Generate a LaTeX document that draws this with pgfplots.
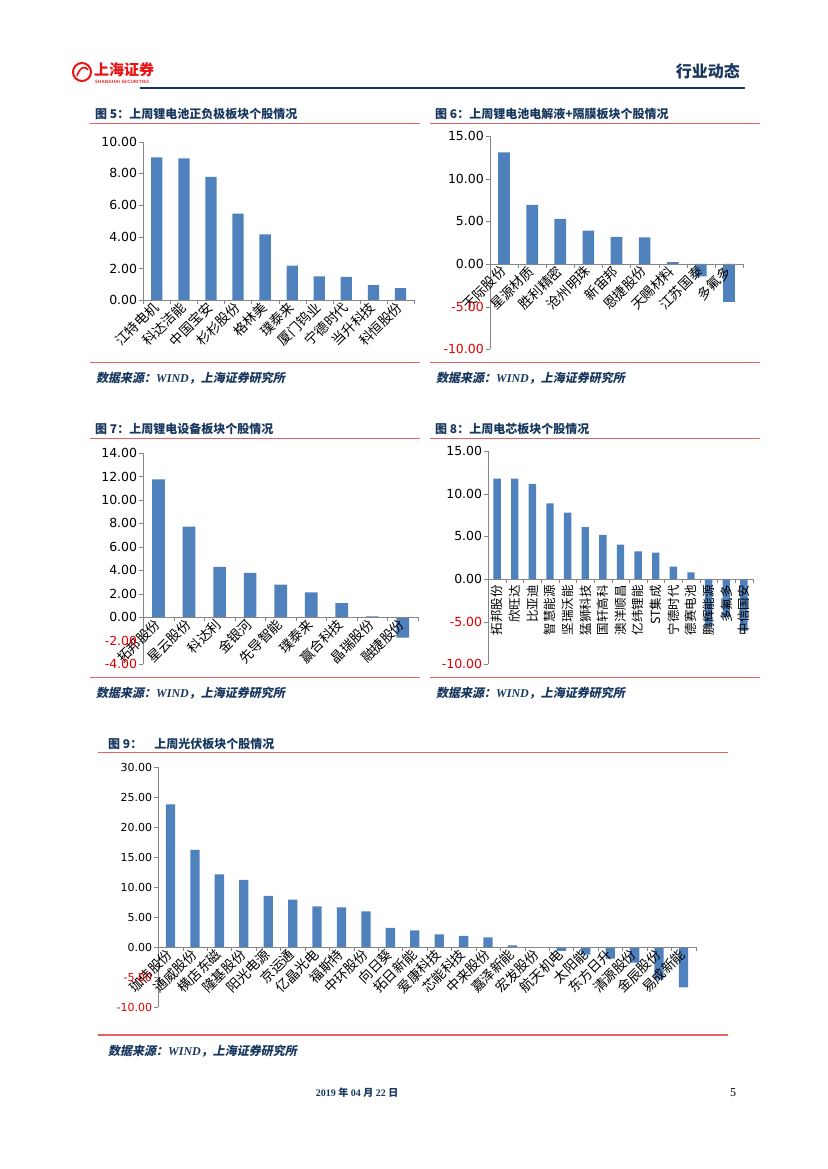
\documentclass[border=0pt]{standalone}
\usepackage{fontspec}
\usepackage{pgfplots}
\pgfplotsset{compat=1.18}
\setmainfont{Liberation Serif}
\newfontfamily\cjk{Noto Sans CJK SC}
\newfontfamily\cjksl[FakeSlant=0.2]{Noto Sans CJK SC}
\newfontfamily\tickf{DejaVu Sans}
\definecolor{barblue}{RGB}{79,129,189}
\definecolor{navy}{RGB}{23,55,94}
\definecolor{redline}{RGB}{226,100,100}
\definecolor{negred}{RGB}{225,0,0}
\definecolor{axgray}{RGB}{134,134,134}
\definecolor{logored}{RGB}{230,20,20}
\pgfplotsset{
  mybar/.style={
    scale only axis, anchor=south west,
    axis y line=left, axis x line=middle,
    axis line style={draw=axgray,-},
    axis on top,
    ybar, bar width=#1, bar shift=0pt,
    enlargelimits=false, clip=false,
    tick align=outside, major tick length=4pt,
    tick style={draw=axgray},
    hide obscured x ticks=false, hide obscured y ticks=false,
    x tick label as interval,
    yticklabel style={font=\fontsize{12.5}{12.5}\selectfont\tickf, inner sep=2pt},
  },
  diag/.style={xticklabel style={font=\fontsize{13.5}{13.5}\selectfont\cjk, rotate=45, anchor=east, inner sep=1pt}},
}
\newcommand{\ngv}[1]{\textcolor{negred}{#1}}
\begin{document}
\begin{tikzpicture}[x=1pt,y=-1pt]
\path[use as bounding box] (0,0) rectangle (827,1169);
\coordinate (A5) at (143.3,300.3);
\coordinate (A6) at (490,349.3);
\coordinate (A7) at (143.3,664.3);
\coordinate (A8) at (488.3,664.3);
\coordinate (A9) at (158.3,1007.3);
% header
\draw[logored, line width=2pt] (82,72) circle (9);
\draw[logored, line width=1.6pt] (77,76) .. controls (80,66) and (86,66) .. (88,70);
\node[anchor=west, text=logored, font=\fontsize{15}{15}\selectfont\cjk\bfseries, inner sep=0] at (94,70) {上海证券};
\node[anchor=west, text=logored, font=\fontsize{4.5}{4.5}\selectfont\sffamily\bfseries, inner sep=0] at (95,82) {SHANGHAI SECURITIES};
\draw[navy, line width=2.6pt] (140,88) -- (745,88);
\node[anchor=east, text=navy, font=\fontsize{16}{16}\selectfont\cjk\bfseries, inner sep=0] at (740,71) {行业动态};
% red rules
\foreach \y in {123.3,362.3,438.3,677.3} {
  \draw[redline, line width=1.2pt] (90,\y) -- (420,\y);
  \draw[redline, line width=1.2pt] (430,\y) -- (760,\y);
}
\draw[redline, line width=1.2pt] (98,752.3) -- (728,752.3);
\draw[redline, line width=1.2pt] (98,1035) -- (728,1035);
% titles
\tikzset{ttl/.style={anchor=west, text=navy, inner sep=0, font=\fontsize{12}{12}\selectfont\cjk\bfseries}}
\node[ttl] at (95,114) {图 5：上周锂电池正负极板块个股情况};
\node[ttl] at (435,114) {图 6：上周锂电池电解液+隔膜板块个股情况};
\node[ttl] at (95,428.5) {图 7：上周锂电设备板块个股情况};
\node[ttl] at (435,428.5) {图 8：上周电芯板块个股情况};
\node[ttl] at (108,744) {图 9：\quad 上周光伏板块个股情况};
% sources
\tikzset{src/.style={anchor=west, text=navy, inner sep=0, font=\fontsize{12}{12}\selectfont}}
\foreach \p in {(96,378),(436,378),(96,693),(436,693),(108,1051)} {
  \node[src] at \p {{\cjksl\bfseries 数据来源：}{\bfseries\itshape WIND}{\cjksl\bfseries ，上海证券研究所}};
}
% footer
\node[anchor=center, text=navy, font=\fontsize{10}{10}\selectfont\bfseries, inner sep=0] at (357,1093) {2019 {\cjk\bfseries 年} 04 {\cjk\bfseries 月} 22 {\cjk\bfseries 日}};
\node[anchor=center, font=\fontsize{12}{12}\selectfont, inner sep=0] at (733,1093) {5};

% Figure 5
\begin{axis}[mybar=11.3pt, diag, at={(A5)}, width=270.7pt, height=158.6pt,
  xmin=-0.5, xmax=9.5, ymin=0, ymax=10,
  xtick={-0.5,0.5,1.5,2.5,3.5,4.5,5.5,6.5,7.5,8.5,9.5},
  xticklabels={江特电机,科达洁能,中国宝安,杉杉股份,格林美,璞泰来,厦门钨业,宁德时代,当升科技,科恒股份},
  ytick={0,2,4,6,8,10}, yticklabels={0.00,2.00,4.00,6.00,8.00,10.00}]
\addplot[fill=barblue, draw=none] coordinates {(0,9.01) (1,8.95) (2,7.79) (3,5.46) (4,4.16) (5,2.18) (6,1.51) (7,1.47) (8,0.95) (9,0.76)};
\end{axis}

% Figure 6
\begin{axis}[mybar=11.7pt, diag, at={(A6)}, width=253pt, height=213.3pt,
  xmin=-0.5, xmax=8.5, ymin=-10, ymax=15,
  xtick={-0.5,0.5,1.5,2.5,3.5,4.5,5.5,6.5,7.5,8.5},
  xticklabels={天际股份,星源材质,胜利精密,沧州明珠,新宙邦,恩捷股份,天赐材料,江苏国泰,多氟多},
  ytick={-10,-5,0,5,10,15}, yticklabels={\ngv{-10.00},\ngv{-5.00},0.00,5.00,10.00,15.00}]
\addplot[fill=barblue, draw=none] coordinates {(0,13.09) (1,6.93) (2,5.30) (3,3.90) (4,3.19) (5,3.12) (6,0.23) (7,-1.44) (8,-4.44)};
\end{axis}

% Figure 7
\begin{axis}[mybar=12.7pt, diag, at={(A7)}, width=274.7pt, height=211.3pt,
  xmin=-0.5, xmax=8.5, ymin=-4, ymax=14,
  xtick={-0.5,0.5,1.5,2.5,3.5,4.5,5.5,6.5,7.5,8.5},
  xticklabels={拓邦股份,星云股份,科达利,金银河,先导智能,璞泰来,赢合科技,晶瑞股份,融捷股份},
  ytick={-4,-2,0,2,4,6,8,10,12,14}, yticklabels={\ngv{-4.00},\ngv{-2.00},0.00,2.00,4.00,6.00,8.00,10.00,12.00,14.00}]
\addplot[fill=barblue, draw=none] coordinates {(0,11.76) (1,7.73) (2,4.29) (3,3.78) (4,2.78) (5,2.13) (6,1.22) (7,0.09) (8,-1.73)};
\end{axis}

% Figure 8
\begin{axis}[mybar=7.3pt, at={(A8)}, width=264.4pt, height=213.3pt,
  xmin=-0.5, xmax=14.5, ymin=-10, ymax=15,
  xtick={-0.5,0.5,1.5,2.5,3.5,4.5,5.5,6.5,7.5,8.5,9.5,10.5,11.5,12.5,13.5,14.5},
  xticklabels={拓邦股份,欣旺达,比亚迪,智慧能源,坚瑞沃能,猛狮科技,国轩高科,澳洋顺昌,亿纬锂能,ST集成,宁德时代,德赛电池,鹏辉能源,多氟多,中信国安},
  xticklabel style={font=\fontsize{12.5}{12.5}\selectfont\cjk, rotate=90, anchor=east, inner sep=2pt},
  ytick={-10,-5,0,5,10,15}, yticklabels={\ngv{-10.00},\ngv{-5.00},0.00,5.00,10.00,15.00}]
\addplot[fill=barblue, draw=none] coordinates {(0,11.76) (1,11.75) (2,11.15) (3,8.87) (4,7.77) (5,6.09) (6,5.16) (7,4.02) (8,3.24) (9,3.09) (10,1.45) (11,0.78) (12,-5.6) (13,-4.44) (14,-6.1)};
\end{axis}

% Figure 9
\begin{axis}[mybar=9.3pt, diag, at={(A9)}, width=537.4pt, height=240pt,
  xmin=-0.5, xmax=21.5, ymin=-10, ymax=30,
  xtick={-0.5,0.5,1.5,2.5,3.5,4.5,5.5,6.5,7.5,8.5,9.5,10.5,11.5,12.5,13.5,14.5,15.5,16.5,17.5,18.5,19.5,20.5,21.5},
  xticklabels={珈伟股份,通威股份,横店东磁,隆基股份,阳光电源,京运通,亿晶光电,福斯特,中环股份,向日葵,拓日新能,爱康科技,芯能科技,中来股份,嘉泽新能,宏发股份,航天机电,太阳能,东方日升,清源股份,金辰股份,易成新能},
  yticklabel style={font=\fontsize{11}{11}\selectfont\tickf},
  ytick={-10,-5,0,5,10,15,20,25,30}, yticklabels={\ngv{-10.00},\ngv{-5.00},0.00,5.00,10.00,15.00,20.00,25.00,30.00}]
\addplot[fill=barblue, draw=none] coordinates {(0,23.83) (1,16.22) (2,12.17) (3,11.22) (4,8.56) (5,7.94) (6,6.83) (7,6.67) (8,6.00) (9,3.22) (10,2.83) (11,2.17) (12,1.89) (13,1.67) (14,0.33) (15,0.0) (16,-0.61) (17,-1.22) (18,-1.89) (19,-2.56) (20,-5.33) (21,-6.67)};
\end{axis}
\end{tikzpicture}
\end{document}
